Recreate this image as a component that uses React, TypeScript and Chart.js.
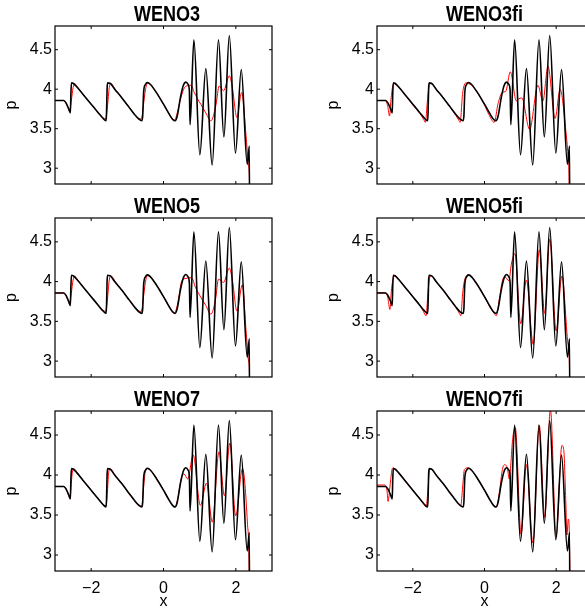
import React, { useEffect, useRef } from "react";
import { Chart, registerables } from "chart.js";
Chart.register(...registerables);

// ---------- data ----------
const xTickValues = [-2, 0, 2];
const xTickLabels = ["\u22122", "0", "2"];
const yTickValues = [3, 3.5, 4, 4.5];
const yTickLabels = ["3", "3.5", "4", "4.5"];
const xMin = -3;
const xMax = 3;
const yMin = 2.8;
const yMax = 4.8;
const panelTitles = ["WENO3", "WENO3fi", "WENO5", "WENO5fi", "WENO7", "WENO7fi"];

// reference solution (black)
const refX = [-3.0, -2.76, -2.70, -2.62, -2.575, -2.56, -2.545, -2.50, -2.40, -2.20, -2.00, -1.80, -1.68, -1.59, -1.575, -1.56, -1.545, -1.48, -1.35, -1.15, -0.95, -0.80, -0.68, -0.60, -0.575, -0.55, -0.50, -0.44, -0.36, -0.20, 0.00, 0.15, 0.25, 0.32, 0.38, 0.47, 0.55, 0.62, 0.68, 0.715, 0.735, 0.84, 1.005, 1.17, 1.345, 1.52, 1.67, 1.82, 1.99, 2.15, 2.315, 2.375, 2.385, 3.0];
const refP = [3.857, 3.857, 3.83, 3.75, 3.70, 3.95, 4.08, 4.075, 4.03, 3.92, 3.81, 3.70, 3.635, 3.60, 3.70, 4.00, 4.08, 4.075, 4.00, 3.89, 3.77, 3.68, 3.62, 3.60, 3.66, 3.96, 4.06, 4.085, 4.06, 3.96, 3.81, 3.69, 3.62, 3.60, 3.66, 3.90, 4.05, 4.09, 4.06, 3.98, 3.55, 4.625, 3.17, 4.26, 3.04, 4.625, 3.395, 4.68, 3.19, 4.25, 3.05, 3.28, 1.0, 1.0];

// WENO3 (red)
const weno3X = [-3.0, -2.76, -2.70, -2.63, -2.60, -2.55, -2.50, -2.45, -2.40, -2.20, -2.00, -1.80, -1.68, -1.60, -1.55, -1.50, -1.46, -1.35, -1.15, -0.95, -0.80, -0.68, -0.61, -0.56, -0.50, -0.44, -0.36, -0.20, 0.00, 0.15, 0.24, 0.31, 0.38, 0.48, 0.58, 0.68, 0.76, 0.85, 0.94, 1.03, 1.17, 1.31, 1.45, 1.54, 1.66, 1.82, 1.91, 2.03, 2.16, 2.28, 2.35, 2.38, 2.41, 3.0];
const weno3P = [3.857, 3.857, 3.83, 3.75, 3.72, 3.85, 4.02, 4.07, 4.04, 3.92, 3.81, 3.70, 3.64, 3.625, 3.78, 4.02, 4.075, 4.01, 3.89, 3.77, 3.68, 3.63, 3.625, 3.78, 3.99, 4.075, 4.06, 3.96, 3.81, 3.69, 3.63, 3.61, 3.70, 3.89, 4.02, 4.045, 4.05, 3.96, 3.88, 3.81, 3.70, 3.60, 3.80, 4.04, 3.98, 4.17, 4.00, 3.64, 3.96, 3.42, 3.02, 2.78, 1.0, 1.0];

// WENO5 (red)
const weno5X = [-3.0, -2.76, -2.70, -2.63, -2.60, -2.55, -2.50, -2.45, -2.40, -2.20, -2.00, -1.80, -1.68, -1.60, -1.55, -1.50, -1.46, -1.35, -1.15, -0.95, -0.80, -0.68, -0.61, -0.56, -0.50, -0.44, -0.36, -0.20, 0.00, 0.15, 0.24, 0.31, 0.38, 0.51, 0.62, 0.78, 0.88, 1.01, 1.17, 1.31, 1.44, 1.52, 1.66, 1.82, 1.91, 2.03, 2.18, 2.28, 2.35, 2.38, 2.41, 3.0];
const weno5P = [3.857, 3.857, 3.83, 3.75, 3.72, 3.85, 4.02, 4.07, 4.04, 3.92, 3.81, 3.70, 3.64, 3.625, 3.78, 4.02, 4.075, 4.01, 3.89, 3.77, 3.68, 3.63, 3.625, 3.78, 3.99, 4.075, 4.06, 3.96, 3.81, 3.69, 3.63, 3.61, 3.70, 4.01, 4.04, 4.05, 3.93, 3.82, 3.70, 3.59, 3.78, 4.03, 3.99, 4.17, 4.00, 3.63, 3.96, 3.40, 3.00, 2.77, 1.0, 1.0];

// WENO7 (red)
const weno7X = [-3.0, -2.76, -2.70, -2.62, -2.59, -2.55, -2.51, -2.47, -2.40, -2.20, -2.00, -1.80, -1.68, -1.59, -1.55, -1.51, -1.47, -1.35, -1.15, -0.95, -0.80, -0.68, -0.60, -0.56, -0.51, -0.45, -0.36, -0.20, 0.00, 0.15, 0.25, 0.32, 0.40, 0.48, 0.53, 0.57, 0.67, 0.82, 1.02, 1.19, 1.35, 1.535, 1.685, 1.835, 1.995, 2.185, 2.32, 2.365, 2.395, 3.0];
const weno7P = [3.857, 3.857, 3.83, 3.74, 3.71, 3.90, 4.06, 4.075, 4.04, 3.92, 3.81, 3.70, 3.64, 3.61, 3.80, 4.05, 4.075, 4.005, 3.89, 3.77, 3.68, 3.625, 3.61, 3.80, 4.02, 4.08, 4.06, 3.96, 3.81, 3.69, 3.62, 3.60, 3.72, 3.93, 4.005, 4.01, 3.95, 4.25, 3.62, 3.90, 3.41, 4.29, 3.74, 4.40, 3.49, 4.08, 3.40, 2.85, 1.0, 1.0];

// WENO3fi (red)
const wf3X = [-3.0, -2.76, -2.70, -2.65, -2.61, -2.56, -2.51, -2.40, -2.20, -2.00, -1.80, -1.70, -1.65, -1.59, -1.53, -1.45, -1.35, -1.15, -0.95, -0.80, -0.72, -0.68, -0.61, -0.52, -0.44, -0.36, -0.20, 0.00, 0.12, 0.27, 0.38, 0.50, 0.59, 0.72, 0.89, 0.95, 1.04, 1.26, 1.49, 1.63, 1.77, 1.97, 2.11, 2.27, 2.33, 2.36, 2.39, 3.0];
const wf3P = [3.857, 3.857, 3.78, 3.66, 3.87, 4.04, 4.07, 4.03, 3.92, 3.80, 3.69, 3.62, 3.58, 3.87, 4.07, 4.06, 4.00, 3.89, 3.77, 3.67, 3.61, 3.58, 3.95, 4.08, 4.07, 4.05, 3.96, 3.80, 3.68, 3.58, 3.82, 3.96, 3.97, 4.22, 3.85, 3.875, 3.89, 3.49, 4.05, 3.85, 4.29, 3.63, 4.00, 3.47, 3.16, 2.83, 1.0, 1.0];

// WENO5fi (red)
const wf5X = [-3.0, -2.76, -2.70, -2.64, -2.60, -2.54, -2.48, -2.40, -2.20, -2.00, -1.80, -1.70, -1.63, -1.58, -1.53, -1.47, -1.35, -1.15, -0.95, -0.80, -0.70, -0.66, -0.61, -0.56, -0.45, -0.36, -0.20, 0.00, 0.15, 0.27, 0.33, 0.42, 0.50, 0.57, 0.68, 0.75, 0.85, 1.01, 1.17, 1.36, 1.53, 1.68, 1.82, 2.00, 2.16, 2.33, 2.37, 2.40, 3.0];
const wf5P = [3.86, 3.86, 3.80, 3.65, 3.88, 4.05, 4.07, 4.03, 3.92, 3.81, 3.70, 3.62, 3.57, 3.85, 4.05, 4.07, 4.00, 3.89, 3.77, 3.68, 3.60, 3.57, 3.85, 4.01, 4.08, 4.06, 3.96, 3.81, 3.68, 3.60, 3.57, 3.80, 4.01, 4.06, 4.01, 4.22, 4.35, 3.47, 4.02, 3.21, 4.40, 3.60, 4.53, 3.38, 4.07, 3.21, 2.92, 1.0, 1.0];

// WENO7fi (red)
const wf7X = [-3.0, -2.78, -2.72, -2.69, -2.64, -2.58, -2.55, -2.45, -2.30, -2.00, -1.80, -1.70, -1.63, -1.58, -1.53, -1.45, -1.35, -1.15, -0.95, -0.80, -0.70, -0.66, -0.61, -0.56, -0.46, -0.36, -0.20, 0.00, 0.15, 0.27, 0.33, 0.42, 0.50, 0.57, 0.64, 0.69, 0.79, 0.86, 1.02, 1.17, 1.35, 1.53, 1.68, 1.84, 2.00, 2.16, 2.21, 2.27, 2.30, 2.34, 2.38, 2.40, 3.0];
const wf7P = [3.875, 3.875, 3.80, 3.67, 3.85, 4.07, 4.09, 4.05, 3.98, 3.81, 3.70, 3.64, 3.60, 3.80, 4.08, 4.06, 4.00, 3.89, 3.77, 3.68, 3.63, 3.62, 3.85, 4.07, 4.09, 4.06, 3.96, 3.81, 3.69, 3.61, 3.60, 3.80, 4.07, 4.13, 4.08, 3.95, 4.47, 4.59, 3.26, 4.13, 3.15, 4.62, 3.47, 4.82, 3.22, 4.37, 4.32, 3.65, 3.25, 3.45, 2.90, 1.0, 1.0];

const redSeries = [
  [weno3X, weno3P],
  [wf3X, wf3P],
  [weno5X, weno5P],
  [wf5X, wf5P],
  [weno7X, weno7P],
  [wf7X, wf7P],
];

// ---------- styling / layout ----------
const FONT = "'Liberation Sans', Arial, Helvetica, sans-serif";
const TITLE_FONT = "bold 22px 'Liberation Sans', Arial, Helvetica, sans-serif";
const TITLE_SQUEEZE = 0.82;
const COL_LEFT = [0, 322];
const COL_PAD_RIGHT = [28, 30];
const COL_TITLE_DX = [3.5, 0];
const ROW_TOP = [0, 192, 385];
const ROW_HEIGHT = [224, 225, 226];
const CANVAS_W = 300;

function toPoints(xs: number[], ys: number[]) {
  return xs.map((x, i) => ({ x, y: ys[i] }));
}

const framePlugin = {
  id: "panelFrame",
  afterDatasetsDraw(chart: any) {
    const { ctx, chartArea: a, scales } = chart;
    ctx.save();
    ctx.strokeStyle = "#000";
    ctx.lineWidth = 1.2;
    ctx.strokeRect(a.left, a.top, a.right - a.left, a.bottom - a.top);
    const t = 3;
    ctx.beginPath();
    for (const v of xTickValues) {
      const px = scales.x.getPixelForValue(v);
      ctx.moveTo(px, a.bottom);
      ctx.lineTo(px, a.bottom - t);
      ctx.moveTo(px, a.top);
      ctx.lineTo(px, a.top + t);
    }
    for (const v of yTickValues) {
      const py = scales.y.getPixelForValue(v);
      ctx.moveTo(a.left, py);
      ctx.lineTo(a.left + t, py);
      ctx.moveTo(a.right, py);
      ctx.lineTo(a.right - t, py);
    }
    ctx.lineWidth = 1;
    ctx.stroke();
    ctx.restore();
  },
};

const titlePlugin = {
  id: "panelTitle",
  afterDraw(chart: any, _args: any, opts: any) {
    const { ctx, chartArea: a } = chart;
    ctx.save();
    ctx.font = TITLE_FONT;
    ctx.fillStyle = "#000";
    ctx.textAlign = "center";
    ctx.textBaseline = "alphabetic";
    ctx.translate((a.left + a.right) / 2 + (opts.dx || 0), a.top - 5);
    ctx.scale(TITLE_SQUEEZE, 1);
    ctx.fillText(opts.text, 0, 0);
    ctx.restore();
  },
};

type PanelProps = {
  idx: number;
};

function Panel({ idx }: PanelProps) {
  const ref = useRef<HTMLCanvasElement>(null);
  const col = idx % 2;
  const row = Math.floor(idx / 2);
  const left = COL_LEFT[col];
  const top = ROW_TOP[row];
  const height = ROW_HEIGHT[row];
  const bottomRow = row === 2;

  useEffect(() => {
    const canvas = ref.current;
    if (!canvas) return;
    const [rx, rp] = redSeries[idx];
    const chart = new Chart(canvas, {
      type: "line",
      data: {
        datasets: [
          {
            data: toPoints(refX, refP),
            borderColor: "#000000",
            borderWidth: 1.6,
            pointRadius: 0,
            cubicInterpolationMode: "monotone",
            fill: false,
            order: 0,
          },
          {
            data: toPoints(rx, rp),
            borderColor: "#ff0000",
            borderWidth: 1.0,
            pointRadius: 0,
            cubicInterpolationMode: "monotone",
            fill: false,
            order: 1,
          },
        ],
      },
      options: {
        animation: false,
        responsive: false,
        maintainAspectRatio: false,
        devicePixelRatio: 1,
        events: [],
        layout: { padding: { top: 26, right: COL_PAD_RIGHT[col], left: 0, bottom: 0 } },
        plugins: {
          legend: { display: false },
          tooltip: { enabled: false },
          title: { display: false },
          panelTitle: { text: panelTitles[idx], dx: COL_TITLE_DX[col] },
        } as any,
        scales: {
          x: {
            type: "linear",
            min: xMin,
            max: xMax,
            grid: { display: false, drawTicks: false },
            border: { display: false },
            ticks: {
              display: bottomRow,
              padding: 8,
              color: "#000",
              font: { family: FONT, size: 16 },
              maxRotation: 0,
              autoSkip: false,
              callback: (v: any) => {
                const i = xTickValues.indexOf(Number(v));
                return i >= 0 ? xTickLabels[i] : "";
              },
            },
            title: {
              display: bottomRow,
              text: "x",
              color: "#000",
              font: { family: FONT, size: 16 },
              padding: { top: 0, bottom: 0 },
            },
            afterBuildTicks: (s: any) => {
              s.ticks = xTickValues.map((v) => ({ value: v }));
            },
            afterFit: (s: any) => {
              s.height = 40;
            },
          },
          y: {
            type: "linear",
            min: yMin,
            max: yMax,
            grid: { display: false, drawTicks: false },
            border: { display: false },
            ticks: {
              padding: 3,
              color: "#000",
              font: { family: FONT, size: 16 },
              autoSkip: false,
              callback: (v: any) => {
                const i = yTickValues.indexOf(Number(v));
                return i >= 0 ? yTickLabels[i] : "";
              },
            },
            title: {
              display: true,
              text: "p",
              color: "#000",
              font: { family: FONT, size: 16 },
              padding: { top: 2, bottom: 0 },
            },
            afterBuildTicks: (s: any) => {
              s.ticks = yTickValues.map((v) => ({ value: v }));
            },
            afterFit: (s: any) => {
              s.width = 55;
            },
          },
        },
      } as any,
      plugins: [framePlugin, titlePlugin],
    } as any);
    return () => chart.destroy();
  }, [idx]);

  return (
    <canvas
      ref={ref}
      width={CANVAS_W}
      height={height}
      style={{ position: "absolute", left, top, width: CANVAS_W, height }}
    />
  );
}

export default function App() {
  return (
    <div
      style={{
        position: "absolute",
        left: 0,
        top: 0,
        width: 585,
        height: 611,
        overflow: "hidden",
        background: "#fff",
      }}
    >
      {panelTitles.map((_, i) => (
        <Panel key={i} idx={i} />
      ))}
    </div>
  );
}
